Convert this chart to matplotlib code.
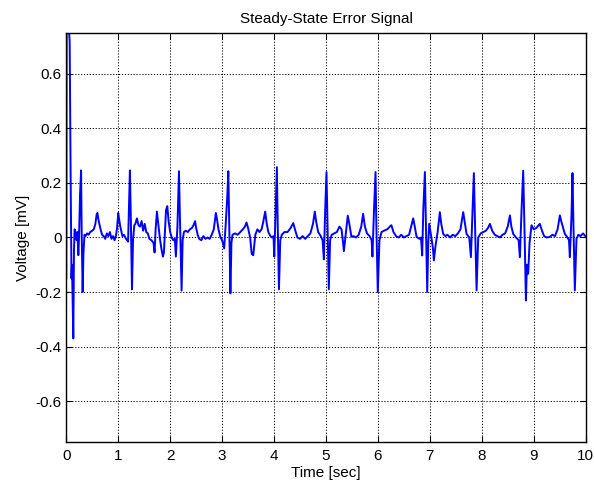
import matplotlib
matplotlib.use("Agg")
import matplotlib.pyplot as plt

plt.rcParams['font.family'] = ['Liberation Sans', 'DejaVu Sans']

# error signal (time in s, voltage in mV)
t = [0.000, 0.007, 0.055, 0.065, 0.085, 0.100, 0.110, 0.135, 0.148, 0.160,
     0.170, 0.185, 0.200, 0.215, 0.232, 0.245, 0.265, 0.285, 0.295, 0.315,
     0.330, 0.350, 0.370, 0.400, 0.430, 0.460, 0.500, 0.530, 0.560, 0.585,
     0.600, 0.615, 0.630, 0.660, 0.690, 0.720, 0.750, 0.780, 0.810, 0.840,
     0.870, 0.900, 0.930, 0.960, 0.980, 1.000, 1.015, 1.040, 1.080, 1.110,
     1.150, 1.190, 1.205, 1.225, 1.240, 1.265, 1.285, 1.310, 1.330, 1.360,
     1.390, 1.420, 1.450, 1.480, 1.510, 1.540, 1.570, 1.600, 1.640, 1.680,
     1.700, 1.720, 1.745, 1.765, 1.800, 1.830, 1.860, 1.880, 1.900, 1.920,
     1.945, 1.970, 2.000, 2.030, 2.060, 2.090, 2.110, 2.140, 2.170, 2.185,
     2.200, 2.220, 2.240, 2.265, 2.300, 2.340, 2.380, 2.420, 2.450, 2.480,
     2.500, 2.530, 2.560, 2.600, 2.640, 2.680, 2.720, 2.760, 2.800, 2.840,
     2.880, 2.900, 2.930, 2.970, 3.000, 3.040, 3.070, 3.100, 3.120, 3.135,
     3.160, 3.180, 3.200, 3.250, 3.300, 3.350, 3.400, 3.440, 3.470, 3.500,
     3.540, 3.570, 3.600, 3.640, 3.680, 3.720, 3.760, 3.790, 3.830, 3.860,
     3.890, 3.930, 3.960, 3.990, 4.005, 4.030, 4.055, 4.070, 4.095, 4.120,
     4.150, 4.200, 4.260, 4.320, 4.370, 4.410, 4.450, 4.500, 4.550, 4.600,
     4.650, 4.700, 4.750, 4.785, 4.810, 4.850, 4.900, 4.935, 4.960, 4.985,
     5.010, 5.030, 5.055, 5.080, 5.110, 5.160, 5.210, 5.260, 5.300, 5.330,
     5.345, 5.380, 5.420, 5.450, 5.490, 5.530, 5.580, 5.630, 5.680, 5.715,
     5.750, 5.790, 5.840, 5.880, 5.895, 5.925, 5.955, 5.970, 5.998, 6.030,
     6.070, 6.120, 6.180, 6.230, 6.260, 6.300, 6.350, 6.400, 6.450, 6.500,
     6.550, 6.600, 6.640, 6.680, 6.710, 6.745, 6.800, 6.830, 6.853, 6.875,
     6.905, 6.925, 6.950, 6.970, 6.988, 7.030, 7.060, 7.078, 7.110, 7.150,
     7.193, 7.220, 7.258, 7.300, 7.340, 7.390, 7.440, 7.490, 7.540, 7.590,
     7.643, 7.670, 7.707, 7.760, 7.791, 7.823, 7.848, 7.870, 7.900, 7.932,
     7.980, 8.030, 8.080, 8.120, 8.157, 8.200, 8.250, 8.300, 8.350, 8.400,
     8.450, 8.500, 8.542, 8.570, 8.606, 8.660, 8.710, 8.734, 8.766, 8.798,
     8.830, 8.850, 8.870, 8.894, 8.920, 8.958, 9.000, 9.050, 9.118, 9.160,
     9.200, 9.250, 9.310, 9.360, 9.410, 9.460, 9.504, 9.530, 9.560, 9.600,
     9.650, 9.680, 9.696, 9.728, 9.747, 9.765, 9.792, 9.824, 9.860, 9.900,
     9.950, 9.985, 10.000]

err = [-0.150, 0.750, 0.750, 0.720, 0.190, -0.150, -0.100, -0.370, -0.050, 0.030,
       0.025, 0.010, -0.010, 0.020, -0.065, 0.000, 0.160, 0.246, 0.040, -0.200,
       -0.060, 0.010, 0.005, 0.015, 0.010, 0.020, 0.025, 0.030, 0.050, 0.085,
       0.090, 0.070, 0.055, 0.030, 0.010, 0.005, -0.005, 0.015, 0.005, 0.020,
       -0.005, 0.005, -0.010, 0.010, 0.040, 0.090, 0.070, 0.040, 0.005, 0.010,
       -0.005, -0.015, 0.100, 0.246, 0.100, -0.190, -0.010, 0.045, 0.050, 0.070,
       0.045, 0.040, 0.060, 0.025, 0.050, 0.020, 0.015, -0.005, -0.010, -0.020,
       -0.055, 0.030, 0.095, 0.060, 0.000, -0.040, -0.070, -0.055, 0.020, 0.100,
       0.115, 0.060, 0.020, 0.000, -0.010, -0.005, -0.070, 0.040, 0.243, 0.100,
       -0.020, -0.195, -0.010, 0.020, 0.025, 0.020, 0.030, 0.035, 0.045, 0.060,
       0.035, 0.010, -0.005, -0.010, 0.005, -0.005, 0.000, -0.005, 0.010, 0.030,
       0.090, 0.070, 0.030, 0.000, -0.010, -0.040, 0.050, 0.150, 0.243, 0.080,
       -0.205, -0.020, 0.010, 0.015, 0.010, 0.020, 0.030, 0.040, 0.055, 0.035,
       0.000, -0.060, -0.065, 0.010, 0.030, 0.020, 0.030, 0.055, 0.095, 0.050,
       0.020, 0.005, 0.000, 0.005, -0.070, 0.100, 0.258, 0.060, -0.190, -0.010,
       0.010, 0.020, 0.020, 0.035, 0.053, 0.025, 0.000, -0.005, 0.005, -0.005,
       0.005, 0.015, 0.050, 0.095, 0.060, 0.020, 0.005, -0.010, -0.080, 0.100,
       0.240, 0.050, -0.190, -0.010, 0.010, 0.015, 0.020, 0.040, 0.030, -0.020,
       -0.050, 0.010, 0.080, 0.050, 0.003, 0.005, 0.000, 0.010, 0.040, 0.087,
       0.040, 0.015, 0.005, -0.010, -0.070, 0.100, 0.240, 0.050, -0.200, -0.010,
       0.020, 0.025, 0.030, 0.040, 0.045, 0.020, 0.005, 0.000, 0.010, 0.000,
       0.005, 0.010, 0.040, 0.070, 0.040, 0.002, -0.005, 0.000, -0.066, 0.105,
       0.240, 0.040, -0.200, -0.020, 0.050, 0.000, -0.040, -0.084, -0.030, 0.020,
       0.093, 0.050, 0.013, 0.005, 0.010, 0.000, 0.010, 0.005, 0.015, 0.030,
       0.093, 0.060, 0.013, 0.000, -0.072, 0.100, 0.236, 0.050, -0.194, 0.000,
       0.015, 0.020, 0.025, 0.035, 0.050, 0.025, 0.010, 0.005, 0.000, 0.010,
       0.015, 0.040, 0.081, 0.040, 0.013, 0.000, -0.010, -0.072, 0.100, 0.245,
       -0.035, -0.231, -0.100, -0.133, -0.020, 0.045, 0.030, 0.035, 0.050, 0.025,
       0.005, 0.000, 0.002, 0.010, 0.005, 0.030, 0.081, 0.060, 0.040, 0.013,
       0.000, -0.010, -0.072, 0.081, 0.236, 0.050, -0.194, -0.005, 0.010, 0.005,
       0.015, 0.007, 0.005]

x_ticks = [0, 1, 2, 3, 4, 5, 6, 7, 8, 9, 10]
y_ticks = [-0.6, -0.4, -0.2, 0, 0.2, 0.4, 0.6]
y_labels = ['-0.6', '-0.4', '-0.2', '0', '0.2', '0.4', '0.6']

fig = plt.figure(figsize=(5.94, 4.88), dpi=100)
ax = fig.add_axes([0.1116, 0.0943, 0.8743, 0.8381])

ax.plot(t, err, color='#0000ff', linewidth=1.4)

ax.set_xlim(0, 10)
ax.set_ylim(-0.75, 0.75)
ax.set_xticks(x_ticks)
ax.set_yticks(y_ticks)
ax.set_yticklabels(y_labels)
ax.grid(True, color='black', linestyle=(0, (1.2, 1.8)), linewidth=0.7)
ax.tick_params(direction='in', top=True, right=True, length=4, width=0.8,
               labelsize=11, colors='black')
ax.tick_params(axis='x', pad=5)
ax.tick_params(axis='y', pad=3.5)
for s in ax.spines.values():
    s.set_linewidth(1.0)

ax.set_title("Steady-State Error Signal", fontsize=11, pad=7)
ax.set_xlabel("Time [sec]", fontsize=11, labelpad=2)
ax.set_ylabel("Voltage [mV]", fontsize=11, labelpad=4)

fig.savefig("out.png", dpi=100)
